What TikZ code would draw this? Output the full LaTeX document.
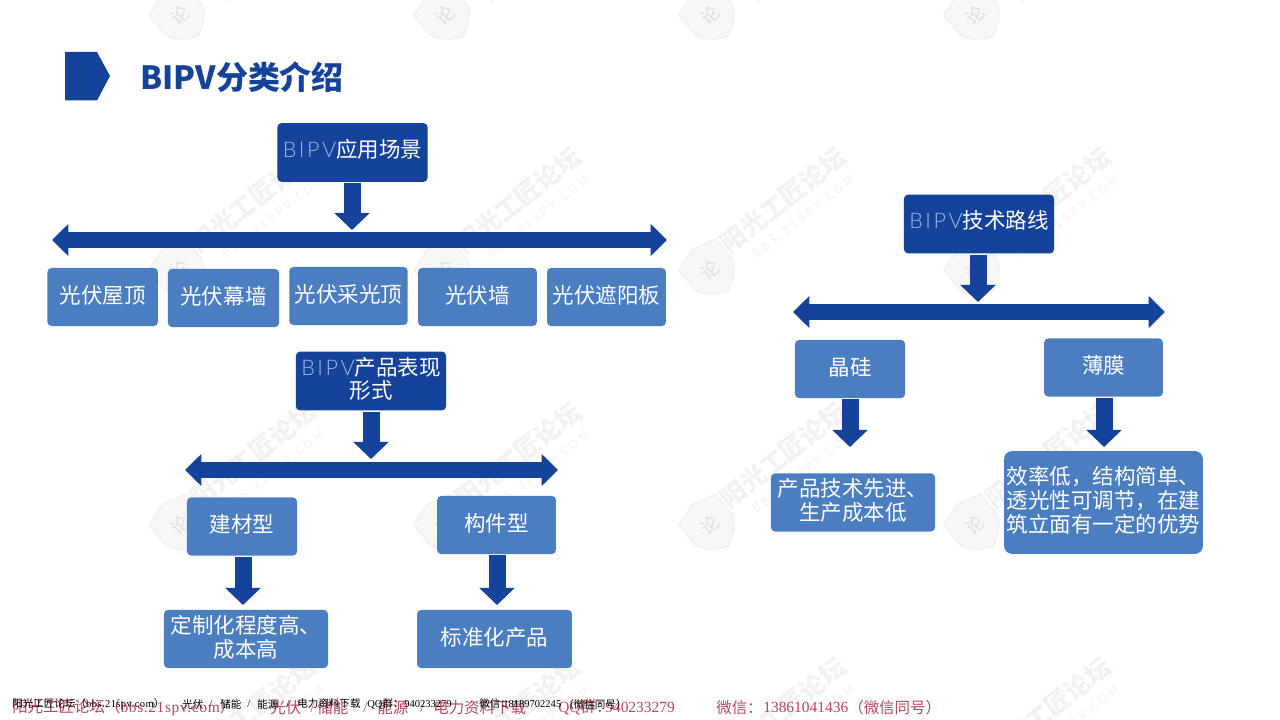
\documentclass[tikz,border=0pt]{standalone}
\usepackage{fontspec}
\setmainfont{Noto Sans CJK SC}
\newfontfamily\latinlight{Lato Light}[LetterSpace=12]
\newfontfamily\footlatin{Liberation Serif}
\usetikzlibrary{positioning}
\usetikzlibrary{arrows.meta}
\definecolor{darkblue}{HTML}{15429A}
\definecolor{lightblue}{HTML}{4A7EC1}
\definecolor{thinblue}{HTML}{9FB5E2}
\definecolor{markgray}{HTML}{F2F2F2}
\definecolor{markfill}{HTML}{F7F7F7}
\definecolor{footred}{HTML}{B9475C}
\newcommand{\bipv}{{\latinlight\color{thinblue}BIPV}}
\newcommand{\footsite}{{\footlatin\addfontfeature{LetterSpace=4}bbs.21spv.com}}
\tikzset{
  darkbox/.style={fill=darkblue, rounded corners=.1cm, text=white, align=center,
    inner sep=0pt, minimum height=1.47cm, minimum width=3.75cm, text depth=6pt,
    font=\fontsize{15.3}{16.6}\selectfont},
  lightbox/.style={fill=lightblue, rounded corners=.1cm, text=white, align=center,
    inner sep=0pt, minimum height=1.45cm, text depth=4pt,
    font=\fontsize{15.3}{16.8}\selectfont},
  downarrow/.style={darkblue, line width=.425cm, shorten <=.03cm,
    -{Triangle[length=.43cm,width=.87cm]}},
  bararrow/.style={darkblue, line width=.4cm,
    {Triangle[length=.41cm,width=.78cm]}-{Triangle[length=.41cm,width=.78cm]}},
  footblack/.style={anchor=west, inner sep=0pt, text=black, font=\fontsize{7.5}{8}\selectfont},
  footcolor/.style={anchor=west, inner sep=0pt, text=footred, font=\fontsize{11}{12}\selectfont},
}
\begin{document}
\begin{tikzpicture}[x=.025cm, y=-.025cm]
  \useasboundingbox (0,0) rectangle (1280,720);
  \fill[white] (0,0) rectangle (1280,720);
  %--- Watermarks
  \foreach \wx/\wy in {180/15, 445/15, 710/15, 975/15, 180/270, 445/270, 710/270, 975/270,
                       180/525, 445/525, 710/525, 975/525, 180/780, 445/780, 710/780, 975/780} {
    \begin{scope}[shift={(\wx,\wy)}]
      \draw[markgray, line width=.04cm, fill=markfill, rotate=40]
        (-24,-20) -- (0,-27) -- (24,-20) -- (24,6) .. controls (20,18) and (8,24) .. (0,28)
        .. controls (-8,24) and (-20,18) .. (-24,6) -- cycle;
      \node[text=markgray!92!black, rotate=40, inner sep=0pt, font=\fontsize{13}{13}\selectfont] (markc) at (0,0) {论};
      \node[text=markgray, rotate=38, inner sep=0pt, font=\bfseries\fontsize{18}{18}\selectfont] (markt) at (73,-70) {阳光工匠论坛};
      \node[text=markgray, rotate=38, inner sep=0pt, font=\fontsize{8.5}{9}\selectfont] (marku) at (93,-53) {\addfontfeature{LetterSpace=25}BBS.21SPV.COM};
    \end{scope}
  }
  %--- Title
  \fill[darkblue] (65,52) -- ++(32,0) -- ++(13,24) -- ++(-13,24.5) -- ++(-32,0) -- cycle;
  \node[anchor=west, inner sep=0pt, text=darkblue, font=\bfseries\fontsize{22.7}{24}\selectfont] (title) at (140,77) {BIPV分类介绍};
  %--- Scenes
  \node[darkbox] (scene) at (352.5,152.5) {\bipv 应用场景};
  \coordinate (sceneTip) at (352,230);
  \coordinate (sceneL) at (52,240);
  \coordinate (sceneR) at (667,240);
  \draw[downarrow] (sceneTip |- scene.south) -- (sceneTip);
  \draw[bararrow] (sceneL) -- (sceneR);
  \node[lightbox, minimum width=2.76cm] (roof) at (102.7,297) {光伏屋顶};
  \node[lightbox, minimum width=2.78cm] (curtain) at (223.5,298) {光伏幕墙};
  \node[lightbox, minimum width=2.96cm] (skylight) at (348.5,296) {光伏采光顶};
  \node[lightbox, minimum width=2.97cm] (wall) at (477.5,297) {光伏墙};
  \node[lightbox, minimum width=2.97cm] (shade) at (606.5,297) {光伏遮阳板};
  %--- Products
  \node[darkbox, text depth=4.6pt] (product) at (371,381) {\bipv 产品表现\\形式};
  \coordinate (productTip) at (371,459);
  \coordinate (productL) at (185,470);
  \coordinate (productR) at (558,470);
  \draw[downarrow] (productTip |- product.south) -- (productTip);
  \draw[bararrow] (productL) -- (productR);
  \node[lightbox, minimum width=2.75cm] (material) at (242,526.5) {建材型};
  \node[lightbox, minimum width=2.97cm] (component) at (496.5,525) {构件型};
  \node[lightbox, minimum width=4.1cm] (custom) at (246,639) {定制化程度高、\\成本高};
  \node[lightbox, minimum width=3.87cm] (standard) at (494.5,639) {标准化产品};
  \coordinate (materialTip) at (243,605);
  \coordinate (componentTip) at (497,605);
  \draw[downarrow] (materialTip |- material.south) -- (materialTip);
  \draw[downarrow] (componentTip |- component.south) -- (componentTip);
  %--- Technology
  \node[darkbox] (tech) at (979,224) {\bipv 技术路线};
  \coordinate (techTip) at (978,302);
  \coordinate (techL) at (793,312);
  \coordinate (techR) at (1165,312);
  \draw[downarrow] (techTip |- tech.south) -- (techTip);
  \draw[bararrow] (techL) -- (techR);
  \node[lightbox, minimum width=2.75cm] (crystal) at (850,369) {晶硅};
  \node[lightbox, minimum width=2.97cm] (film) at (1103.5,367.5) {薄膜};
  \node[lightbox, minimum width=4.1cm] (crystalnote) at (853,502.5) {产品技术先进、\\生产成本低};
  \node[lightbox, minimum width=4.97cm, minimum height=2.57cm, rounded corners=.2cm, text depth=4.6pt] (filmnote) at (1103.5,502.5) {效率低，结构简单、\\透光性可调节，在建\\筑立面有一定的优势};
  \coordinate (crystalTip) at (850,447);
  \coordinate (filmTip) at (1104,447);
  \draw[downarrow] (crystalTip |- crystal.south) -- (crystalTip);
  \draw[downarrow] (filmTip |- film.south) -- (filmTip);
  %--- Footer
  \foreach \fx/\ftext in {12/{阳光工匠论坛（\footsite）}, 270/光伏, 310/{\footlatin/}, 317/储能, 363/{\footlatin/},
      377/能源, 420/{\footlatin/}, 433/电力资料下载, 558/{{\footlatin QQ}群：}, 605/{\footlatin 940233279},
      716/微信：, 763/{\footlatin 13861041436}, 848/（微信同号）}
    \node[footcolor] (red\fx) at (\fx,707.5) {\ftext};
  \foreach \fx/\ftext in {12/{阳光工匠论坛（\footsite）}, 182/光伏, 209/{\footlatin/}, 220/储能, 247/{\footlatin/},
      257/能源, 286/{\footlatin/}, 297/电力资料下载, 367/{{\footlatin QQ}群：}, 404/{\footlatin 940233279},
      479/微信：, 503/{\footlatin 18189702245}, 563/（微信同号）}
    \node[footblack] (black\fx) at (\fx,704) {\ftext};
\end{tikzpicture}
\end{document}
